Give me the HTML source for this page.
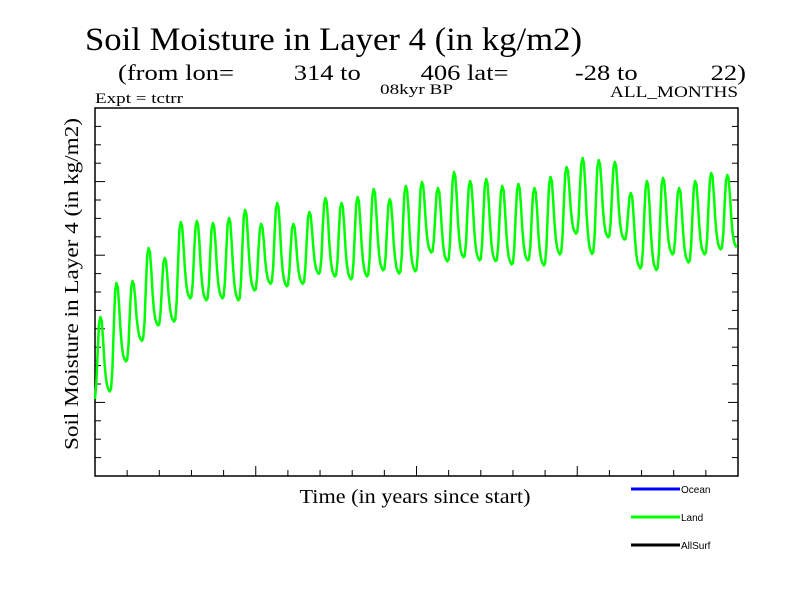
<!DOCTYPE html>
<html><head><meta charset="utf-8"><style>
body{margin:0;background:#fff;}
svg{display:block;font-family:"Liberation Serif",serif;}
</style></head><body>
<svg id="chart" width="800" height="600" viewBox="0 0 800 600">
<text x="85" y="50" font-size="33" textLength="497" lengthAdjust="spacingAndGlyphs">Soil Moisture in Layer 4 (in kg/m2)</text>
<text x="118" y="80" font-size="22" textLength="628" lengthAdjust="spacingAndGlyphs" xml:space="preserve">(from lon=         314 to         406 lat=          -28 to           22)</text>
<text x="95" y="103" font-size="15" textLength="88" lengthAdjust="spacingAndGlyphs">Expt = tctrr</text>
<text x="380" y="94" font-size="15" textLength="73" lengthAdjust="spacingAndGlyphs">08kyr BP</text>
<text x="610" y="97" font-size="16" textLength="128" lengthAdjust="spacingAndGlyphs">ALL_MONTHS</text>
<text transform="translate(78,284) rotate(-90)" text-anchor="middle" font-size="20" textLength="332" lengthAdjust="spacingAndGlyphs">Soil Moisture in Layer 4 (in kg/m2)</text>
<text x="415" y="503" text-anchor="middle" font-size="20" textLength="231" lengthAdjust="spacingAndGlyphs">Time (in years since start)</text>
<g id="axes"></g>
<g id="series"></g>
<g font-family="Liberation Sans, sans-serif" font-size="10">
<line x1="631" y1="489" x2="680" y2="489" stroke="#0000ff" stroke-width="3"/>
<text x="681" y="493">Ocean</text>
<line x1="631" y1="517" x2="680" y2="517" stroke="#00ff00" stroke-width="3"/>
<text x="681" y="521">Land</text>
<line x1="631" y1="545" x2="680" y2="545" stroke="#000" stroke-width="3"/>
<text x="681" y="549">AllSurf</text>
</g>
</svg>
<script>
const years = 40;
const peaks = [8.64,10.49,10.60,12.39,11.85,13.80,13.86,13.75,14.02,14.46,13.70,14.84,13.70,14.35,15.11,14.84,15.16,15.60,15.05,15.76,15.98,15.65,16.52,16.03,16.14,15.76,15.87,15.65,16.25,16.79,17.28,17.17,17.07,15.38,16.03,16.20,15.65,16.03,16.47,16.36];
const troughs = [4.51,6.14,7.28,8.10,8.32,9.57,9.46,9.57,9.46,10.00,10.38,10.22,10.38,10.92,10.76,10.60,10.76,11.09,10.92,11.03,12.07,11.58,11.79,11.63,11.58,11.41,11.63,11.36,11.96,13.10,11.96,12.88,12.77,11.20,11.09,11.96,11.52,11.96,12.23,12.34];
const startValue = 4.0;
const seasonShape = [0.04,0.22,0.6,0.92,1.0,0.95,0.72,0.42,0.22,0.1,0.05,0.02];
const yMin = 0, yMax = 20;

const L=95,R=738,T=108,B=476;
const NS="http://www.w3.org/2000/svg";
const xS = t => L + (t/years)*(R-L);
const yS = v => B - (v-yMin)/(yMax-yMin)*(B-T);
function mk(tag,attrs,parent){const e=document.createElementNS(NS,tag);for(const k in attrs)e.setAttribute(k,attrs[k]);parent.appendChild(e);return e;}

const axes=document.getElementById('axes');
const frame=mk('rect',{x:L,y:T,width:R-L,height:B-T,fill:'none',stroke:'#000','stroke-width':1.5},axes);


for(let i=0;i<=20;i++){
  const x=L+i*(R-L)/20, len=(i%5===0)?10:6;
  const t=mk('line',{x1:x,y1:B,x2:x,y2:B-len,stroke:'#000','stroke-width':1},axes);
  
  
}
for(let i=0;i<=20;i++){
  const y=T+i*(B-T)/20, len=(i%4===0)?10:6;
  const a=mk('line',{x1:L,y1:y,x2:L+len,y2:y,stroke:'#000','stroke-width':1},axes);
  
  
  const b=mk('line',{x1:R,y1:y,x2:R-len,y2:y,stroke:'#000','stroke-width':1},axes);
  
  
}

const pts=[];
for(let i=0;i<years;i++){
  for(let m=0;m<12;m++){
    const lo = m<5 ? (i===0?startValue:troughs[i-1]) : troughs[i];
    const v = lo + (peaks[i]-lo)*seasonShape[m];
    pts.push(xS(i+m/12).toFixed(1)+','+yS(v).toFixed(1));
  }
}
const line=mk('polyline',{points:pts.join(' '),fill:'none',stroke:'#00ff00','stroke-width':2.5,'stroke-linejoin':'round'},document.getElementById('series'));


</script>
</body></html>
